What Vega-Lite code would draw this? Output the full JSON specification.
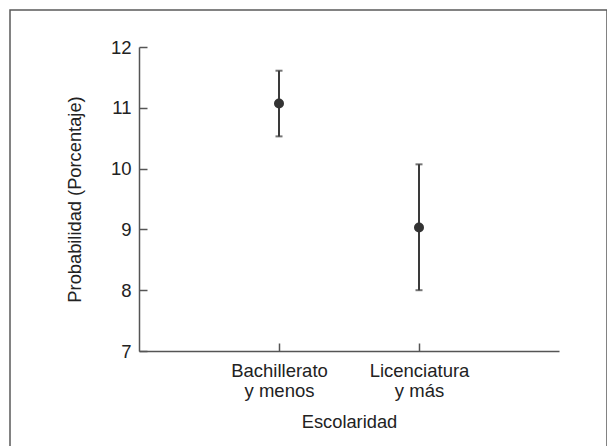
{
  "$schema": "https://vega.github.io/schema/vega-lite/v6.json",
  "autosize": {"type": "none"},
  "padding": {"left": 10, "top": 10, "right": 0, "bottom": 0},
  "width": 597,
  "height": 437,
  "background": "white",
  "config": {
    "view": {"stroke": "#5a5a5a", "strokeWidth": 1.5},
    "font": "Liberation Sans",
    "axis": {
      "domainColor": "#555555",
      "domainWidth": 1.5,
      "tickColor": "#555555",
      "tickWidth": 1.5,
      "tickSize": -8,
      "labelFont": "Liberation Sans",
      "labelFontSize": 18.5,
      "labelColor": "#222222",
      "titleFont": "Liberation Sans",
      "titleFontSize": 18.3,
      "titleFontWeight": "normal",
      "titleColor": "#222222",
      "grid": false
    }
  },
  "data": {
    "values": [
      {"escolaridad": "Bachillerato y menos", "est": 11.07, "lo": 10.53, "hi": 11.61},
      {"escolaridad": "Licenciatura y más", "est": 9.03, "lo": 8.0, "hi": 10.07}
    ]
  },
  "encoding": {
    "x": {
      "field": "escolaridad",
      "type": "nominal",
      "sort": null,
      "scale": {"type": "point", "padding": 1, "range": [129, 549]},
      "axis": {
        "title": "Escolaridad",
        "offset": -96,
        "labelAngle": 0,
        "labelPadding": 18,
        "labelBaseline": "top",
        "labelLineHeight": 20,
        "labelExpr": "[substring(datum.label, 0, indexof(datum.label, ' ')), substring(datum.label, indexof(datum.label, ' ') + 1)]",
        "titlePadding": 14
      }
    }
  },
  "layer": [
    {
      "mark": {"type": "rule", "strokeWidth": 2, "color": "#3a3a3a"},
      "encoding": {
        "y": {
          "field": "lo",
          "type": "quantitative",
          "scale": {"domain": [7, 12], "nice": false, "zero": false, "range": [341, 37]},
          "axis": {
            "title": "Probabilidad (Porcentaje)",
            "offset": -129,
            "values": [7, 8, 9, 10, 11, 12],
            "format": "d",
            "labelPadding": 16,
            "titlePadding": 26
          }
        },
        "y2": {"field": "hi"}
      }
    },
    {
      "mark": {"type": "tick", "orient": "horizontal", "size": 7, "thickness": 2, "color": "#3a3a3a"},
      "encoding": {"y": {"field": "lo", "type": "quantitative"}}
    },
    {
      "mark": {"type": "tick", "orient": "horizontal", "size": 7, "thickness": 2, "color": "#3a3a3a"},
      "encoding": {"y": {"field": "hi", "type": "quantitative"}}
    },
    {
      "mark": {"type": "point", "filled": true, "size": 100, "opacity": 1, "color": "#333333"},
      "encoding": {"y": {"field": "est", "type": "quantitative"}}
    }
  ]
}
